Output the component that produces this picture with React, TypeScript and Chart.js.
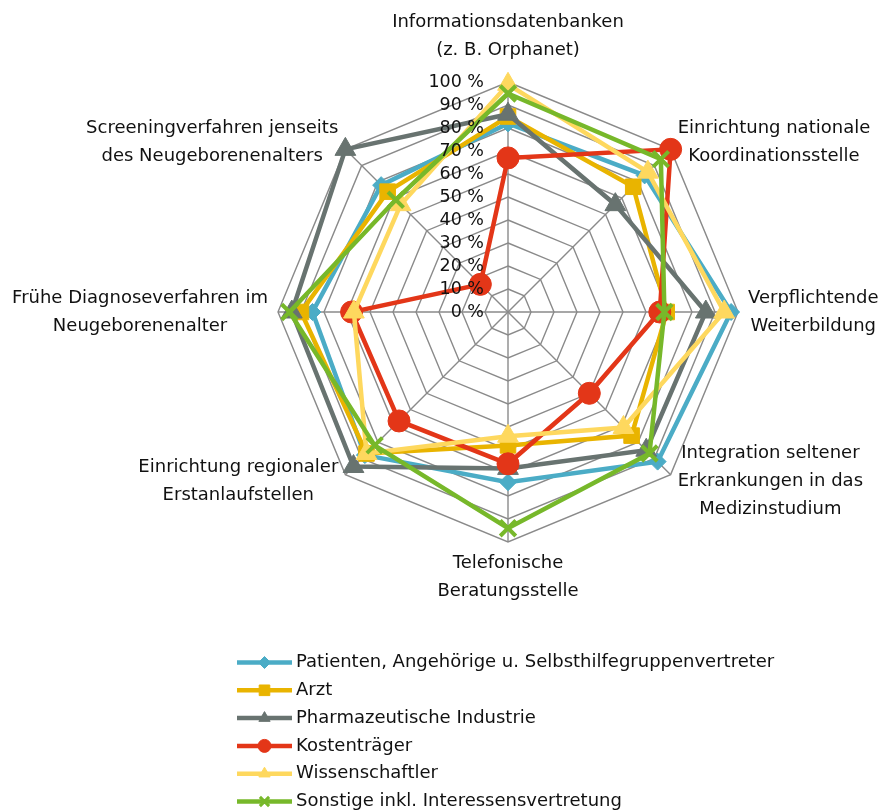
import React, { useEffect, useRef } from 'react';
import { Chart, registerables } from 'chart.js';
import { drawPoint } from 'chart.js/helpers';

Chart.register(...registerables);

// ---------- data ----------
const categories: string[][] = [
  ['Informationsdatenbanken', '(z. B. Orphanet)'],
  ['Einrichtung nationale', 'Koordinationsstelle'],
  ['Verpflichtende', 'Weiterbildung'],
  ['Integration seltener', 'Erkrankungen in das', 'Medizinstudium'],
  ['Telefonische', 'Beratungsstelle'],
  ['Einrichtung regionaler', 'Erstanlaufstellen'],
  ['Frühe Diagnoseverfahren im', 'Neugeborenenalter'],
  ['Screeningverfahren jenseits', 'des Neugeborenenalters'],
];

const seriesNames = [
  'Patienten, Angehörige u. Selbsthilfegruppenvertreter',
  'Arzt',
  'Pharmazeutische Industrie',
  'Kostenträger',
  'Wissenschaftler',
  'Sonstige inkl. Interessensvertretung',
];

const patienten = [82, 84, 97, 92, 74, 88, 85, 78];
const arzt = [85, 77, 69, 76, 58, 87, 90, 74];
const pharma = [86, 66, 86, 85, 68, 95, 94, 100];
const kostentraeger = [67, 100, 66, 50, 66, 67, 68, 17];
const wissenschaftler = [99, 86, 94, 71, 54, 87, 67, 66];
const sonstige = [95, 94, 68, 87, 94, 82, 95, 69];

const tickValues = [0, 10, 20, 30, 40, 50, 60, 70, 80, 90, 100];
const tickLabels = ['0 %', '10 %', '20 %', '30 %', '40 %', '50 %', '60 %', '70 %', '80 %', '90 %', '100 %'];

// ---------- styles ----------
const FONT_FAMILY = '"DejaVu Sans", Verdana, sans-serif';
const FONT_SIZE = 18;
const TICK_FONT_SIZE = 17.5;
const LINE_H = 28;
const TEXT_COLOR = '#111111';
const GRID_COLOR = '#8a8a8a';

const seriesStyles = [
  { color: '#4BACC6', pointStyle: 'rectRot', radius: 8.5, legendRadius: 6 },
  { color: '#E9B400', pointStyle: 'rect', radius: 11, legendRadius: 7.5 },
  { color: '#687370', pointStyle: 'triangle', radius: 12, legendRadius: 6.5 },
  { color: '#E33618', pointStyle: 'circle', radius: 11, legendRadius: 6.5 },
  { color: '#FED85E', pointStyle: 'triangle', radius: 12, legendRadius: 6.5 },
  { color: '#77B82A', pointStyle: 'crossRot', radius: 11, legendRadius: 6.5 },
];

const seriesData = [patienten, arzt, pharma, kostentraeger, wissenschaftler, sonstige];

const labelsPlugin = {
  id: 'customLabels',
  afterDatasetsDraw(chart: any) {
    const ctx = chart.ctx as CanvasRenderingContext2D;
    const scale = chart.scales.r;
    ctx.save();
    ctx.font = `${TICK_FONT_SIZE}px ${FONT_FAMILY}`;
    ctx.fillStyle = TEXT_COLOR;
    // tick labels
    ctx.textAlign = 'right';
    ctx.textBaseline = 'middle';
    tickValues.forEach((v, i) => {
      const d = scale.getDistanceFromCenterForValue(v);
      ctx.fillText(tickLabels[i], scale.xCenter - 24, scale.yCenter - d);
    });
    ctx.restore();
  },
  afterDraw(chart: any) {
    const ctx = chart.ctx as CanvasRenderingContext2D;
    const scale = chart.scales.r;
    ctx.save();
    ctx.font = `${FONT_SIZE}px ${FONT_FAMILY}`;
    ctx.fillStyle = TEXT_COLOR;
    ctx.textAlign = 'center';
    ctx.textBaseline = 'middle';
    // point labels
    categories.forEach((lines, i) => {
      const gap = i === 0 ? 18 : i === 4 ? 7 : 10;
      const pos = scale.getPointPosition(i, scale.drawingArea + gap);
      const angle = scale.getIndexAngle(i) - Math.PI / 2;
      const cos = Math.cos(angle);
      const sin = Math.sin(angle);
      const maxW = Math.max(...lines.map((l) => ctx.measureText(l).width));
      const blockH = lines.length * LINE_H;
      let cx: number;
      let top: number;
      if (Math.abs(cos) < 0.01) {
        cx = pos.x;
        top = sin < 0 ? pos.y - blockH : pos.y;
      } else {
        cx = cos > 0 ? pos.x + maxW / 2 : pos.x - maxW / 2;
        top = pos.y - blockH / 2;
      }
      lines.forEach((l, j) => ctx.fillText(l, cx, top + LINE_H * (j + 0.5)));
    });

    // legend
    const lx0 = 237;
    const lx1 = 292;
    const ty = 662.5;
    const rowH = 27.8;
    ctx.textAlign = 'left';
    seriesNames.forEach((name, i) => {
      const st = seriesStyles[i];
      const y = ty + i * rowH;
      ctx.strokeStyle = st.color;
      ctx.fillStyle = st.color;
      ctx.lineWidth = 4.5;
      ctx.lineCap = 'butt';
      ctx.beginPath();
      ctx.moveTo(lx0, y);
      ctx.lineTo(lx1, y);
      ctx.stroke();
      ctx.lineWidth = st.pointStyle === 'crossRot' ? 3 : 1;
      drawPoint(ctx, { pointStyle: st.pointStyle as any, rotation: 0, radius: st.legendRadius, borderWidth: ctx.lineWidth }, (lx0 + lx1) / 2, y);
      ctx.fillStyle = TEXT_COLOR;
      ctx.fillText(name, 296, y);
    });
    ctx.restore();
  },
};

export default function App() {
  const canvasRef = useRef<HTMLCanvasElement | null>(null);

  useEffect(() => {
    document.body.style.margin = '0';
    const canvas = canvasRef.current;
    if (!canvas) return;
    const chart = new Chart(canvas, {
      type: 'radar',
      data: {
        labels: categories,
        datasets: seriesNames.map((name, i) => ({
          label: name,
          data: seriesData[i],
          borderColor: seriesStyles[i].color,
          backgroundColor: seriesStyles[i].color,
          pointBackgroundColor: seriesStyles[i].color,
          pointBorderColor: seriesStyles[i].color,
          pointStyle: seriesStyles[i].pointStyle as any,
          pointRadius: seriesStyles[i].radius,
          pointBorderWidth: seriesStyles[i].pointStyle === 'crossRot' ? 4 : 1,
          borderWidth: 4.5,
          fill: false,
          tension: 0,
          order: seriesNames.length - 1 - i,
        })),
      },
      options: {
        responsive: false,
        animation: false,
        devicePixelRatio: 1,
        layout: { padding: { left: 278, top: 82, right: 142, bottom: 270 } },
        plugins: {
          legend: { display: false },
          tooltip: { enabled: false },
        },
        elements: { line: { borderJoinStyle: 'miter' } },
        scales: {
          r: {
            min: 0,
            max: 100,
            beginAtZero: true,
            ticks: { display: false, stepSize: 10 },
            pointLabels: { display: false },
            grid: { color: GRID_COLOR, lineWidth: 1.4, circular: false },
            angleLines: { color: GRID_COLOR, lineWidth: 1.4 },
          },
        },
      },
      plugins: [labelsPlugin],
    });
    return () => chart.destroy();
  }, []);

  return <canvas ref={canvasRef} width={880} height={812} style={{ display: 'block' }} />;
}
